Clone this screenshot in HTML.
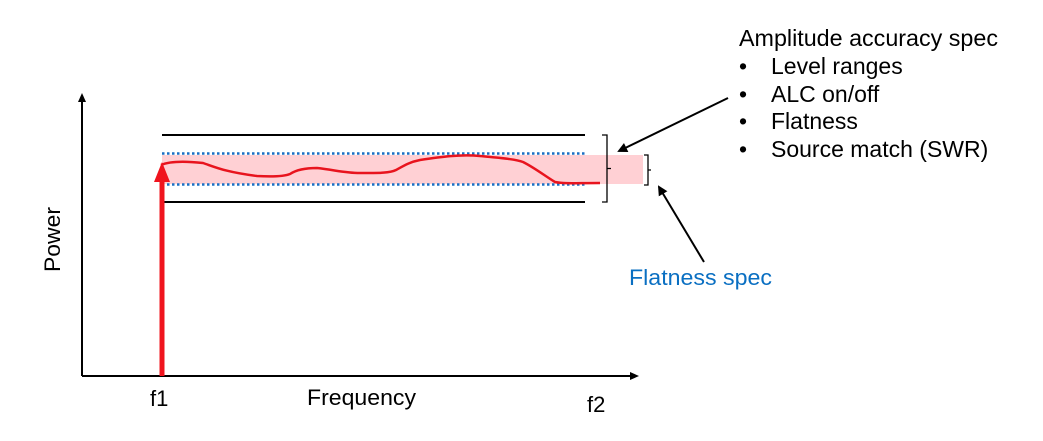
<!DOCTYPE html>
<html><head><style>html,body{margin:0;padding:0;background:#fff}svg{display:block}</style></head>
<body>
<svg width="1043" height="441" viewBox="0 0 1043 441" xmlns="http://www.w3.org/2000/svg" font-family="Liberation Sans, Arial, sans-serif">
<defs>
<marker id="ah" markerWidth="10" markerHeight="10" refX="8" refY="5" orient="auto" markerUnits="userSpaceOnUse"><path d="M0,0 L10,5 L0,10 z" fill="#000"/></marker>
</defs>
<rect x="162" y="155" width="481" height="29" fill="#ffd0d4"/>
<line x1="162" y1="135" x2="585" y2="135" stroke="#000" stroke-width="2"/>
<line x1="162" y1="202" x2="585" y2="202" stroke="#000" stroke-width="2"/>
<line x1="162" y1="153.5" x2="585" y2="153.5" stroke="#1a6fc4" stroke-width="2.5" stroke-dasharray="2.5 2.5"/>
<line x1="162" y1="184.5" x2="585" y2="184.5" stroke="#1a6fc4" stroke-width="2.5" stroke-dasharray="2.5 2.5"/>
<path d="M161,165 C170,161 185,161 203,163 C215,167 225,172 257,176 C275,177 285,176 290,174 C296,170 305,168 317,168 C335,170 345,173 360,173 C380,173 390,173 396,170 C405,165 410,162 420,160 C440,157 460,154 480,156 C500,158 515,159 523,162 C535,168 545,176 555,182 C565,184 575,183 600,183" fill="none" stroke="#e8141e" stroke-width="2.5"/>
<line x1="82" y1="376" x2="82" y2="100" stroke="#000" stroke-width="2"/>
<path d="M78,102 L82,93 L86,102 z" fill="#000"/>
<line x1="82" y1="376" x2="632" y2="376" stroke="#000" stroke-width="2"/>
<path d="M630,372 L639,376 L630,380 z" fill="#000"/>
<rect x="159.5" y="178" width="5" height="198" fill="#f0141e"/>
<path d="M154,182 L162,162 L170,182 z" fill="#f0141e"/>
<path d="M602,135 L607,135 L607,202 L602,202 M607,168.5 L611,168.5" fill="none" stroke="#000" stroke-width="1.3"/>
<path d="M644,155 L648,155 L648,185 L644,185 M648,170 L651,170" fill="none" stroke="#000" stroke-width="1.3"/>
<line x1="728" y1="98" x2="619" y2="151" stroke="#000" stroke-width="2" marker-end="url(#ah)"/>
<line x1="704" y1="262" x2="659" y2="187" stroke="#000" stroke-width="2" marker-end="url(#ah)"/>
<text x="739" y="46" font-size="23" textLength="259" lengthAdjust="spacingAndGlyphs">Amplitude accuracy spec</text>
<g font-size="23">
<text x="739" y="74">•</text><text x="771" y="74">Level ranges</text>
<text x="739" y="102">•</text><text x="771" y="102">ALC on/off</text>
<text x="739" y="129">•</text><text x="771" y="129">Flatness</text>
<text x="739" y="157">•</text><text x="771" y="157">Source match (SWR)</text>
</g>
<text x="629" y="285" font-size="22" fill="#0a6fc2" textLength="143" lengthAdjust="spacingAndGlyphs">Flatness spec</text>
<text x="307" y="405" font-size="22" textLength="109" lengthAdjust="spacingAndGlyphs">Frequency</text>
<text x="150" y="406" font-size="22">f1</text>
<text x="587" y="412" font-size="22">f2</text>
<text transform="translate(60,272) rotate(-90)" font-size="22" textLength="65" lengthAdjust="spacingAndGlyphs">Power</text>
</svg>
</body></html>
